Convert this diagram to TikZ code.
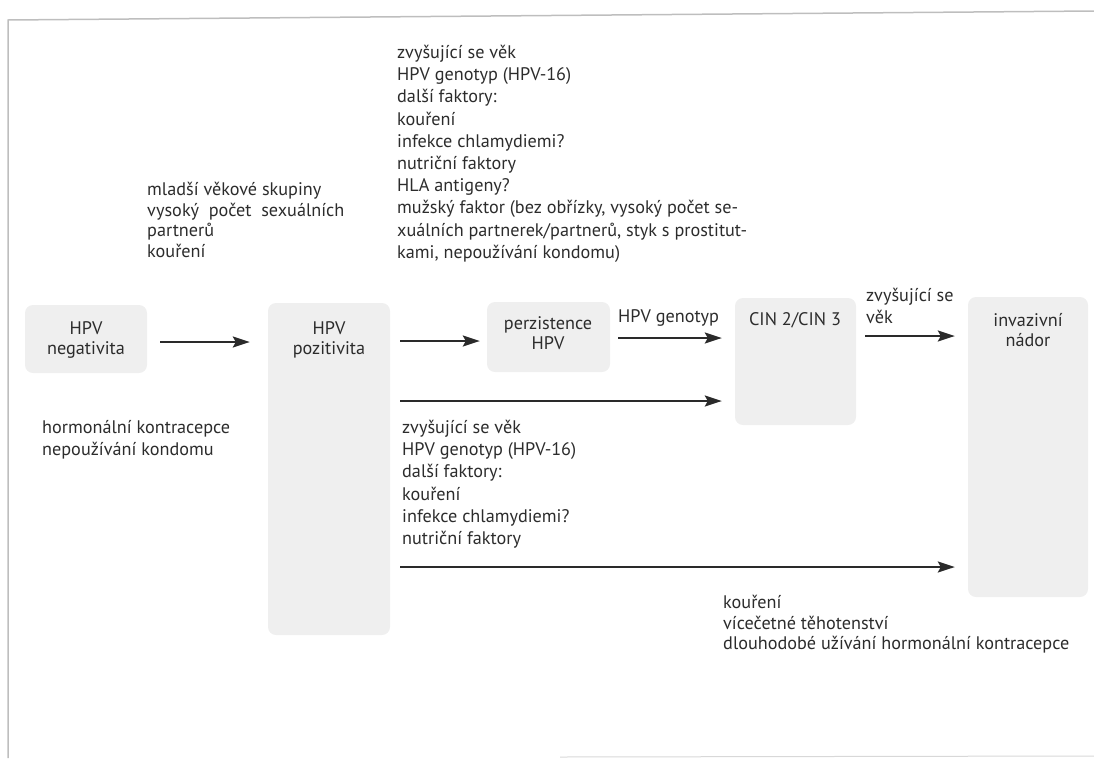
\documentclass[tikz,border=0pt]{standalone}
\usepackage{fontspec}
\setmainfont{PT Sans}
\usetikzlibrary{arrows.meta,calc}
\definecolor{txt}{HTML}{2C2C2C}
\definecolor{arrc}{HTML}{2A2A2A}
\definecolor{boxfill}{HTML}{EFEFEF}
\definecolor{framec}{HTML}{BEBEBE}
\begin{document}
\begin{tikzpicture}[x=1pt,y=-1pt,
  box/.style={fill=boxfill, rounded corners=8pt, inner sep=0pt},
  lbl/.style={text=txt, font=\fontsize{18.2}{22.2}\selectfont, inner sep=0pt, execute at begin node=\strut},
  blk/.style={lbl, align=left, anchor=north west},
  boxtxt/.style={lbl, align=center, anchor=north, font=\fontsize{18.2}{20.5}\selectfont},
  arr/.style={draw=arrc, line width=2pt, -{Stealth[length=17pt,width=11pt,inset=3pt]}}]
\useasboundingbox (0,0) rectangle (1094,758);
% frame
\draw[framec, line width=1.5pt] (8,758) -- (8,20) -- (1094,11);
\draw[framec!60, line width=1pt] (560,757) -- (1094,756);
% boxes
\node[box, minimum width=122pt, minimum height=68pt] (neg) at (86,339) {};
\node[box, minimum width=122pt, minimum height=332pt] (poz) at (329,469) {};
\node[box, minimum width=123pt, minimum height=70pt] (pers) at (548.5,337) {};
\node[box, minimum width=121pt, minimum height=127pt] (cin) at (795.5,361.5) {};
\node[box, minimum width=120pt, minimum height=300pt] (inv) at (1028,447) {};
% box texts
\node[boxtxt] (negt) at (86,321) {HPV\\negativita};
\node[boxtxt] (pozt) at (329,321) {HPV\\pozitivita};
\node[boxtxt] (perst) at (548,316) {perzistence\\HPV};
\node[boxtxt] (cint) at (795,311) {CIN 2/CIN 3};
\node[boxtxt] (invt) at (1028,313) {invazivní\\nádor};
% rows
\coordinate (y1) at (0,342);
\coordinate (y2) at (0,341);
\coordinate (y3) at (0,338);
\coordinate (y4) at (0,401);
\coordinate (y5) at (0,336);
\coordinate (y6) at (0,567);
% arrows
\draw[arr] ($(neg.east |- y1)+(13,0)$) -- ($(poz.west |- y1)+(-18,0)$);
\draw[arr] ($(poz.east |- y2)+(10,0)$) -- ($(pers.west |- y2)+(-7,0)$);
\draw[arr] ($(pers.east |- y3)+(8,0)$) -- ($(cin.west |- y3)+(-13,0)$);
\draw[arr] ($(poz.east |- y4)+(10,0)$) -- ($(cin.west |- y4)+(-13,0)$);
\draw[arr] ($(cin.east |- y5)+(9,0)$) -- ($(inv.west |- y5)+(-13,0)$);
\draw[arr] ($(poz.east |- y6)+(10,0)$) -- ($(inv.west |- y6)+(-13,0)$);
% texts
\node[blk] (top) at (397,45) {zvyšující se věk\\HPV genotyp (HPV-16)\\další faktory:\\kouření\\infekce chlamydiemi?\\nutriční faktory\\HLA antigeny?\\mužský faktor (bez obřízky, vysoký počet se-\\xuálních partnerek/partnerů, styk s prostitut-\\kami, nepoužívání kondomu)};
\node[blk, font=\fontsize{18.2}{20.7}\selectfont] (left) at (147,182) {mladší věkové skupiny\\vysoký~ počet~ sexuálních\\partnerů\\kouření};
\node[blk] (bl) at (42,420) {hormonální kontracepce\\nepoužívání kondomu};
\node[blk] (mid) at (402,420) {zvyšující se věk\\HPV genotyp (HPV-16)\\další faktory:\\kouření\\infekce chlamydiemi?\\nutriční faktory};
\node[blk, font=\fontsize{18.2}{20.7}\selectfont] (br) at (723,595) {kouření\\vícečetné těhotenství\\dlouhodobé užívání hormonální kontracepce};
\node[blk] (gen) at (618,307) {HPV genotyp};
\node[blk] (age) at (866,288) {zvyšující se\\věk};
\end{tikzpicture}
\end{document}
